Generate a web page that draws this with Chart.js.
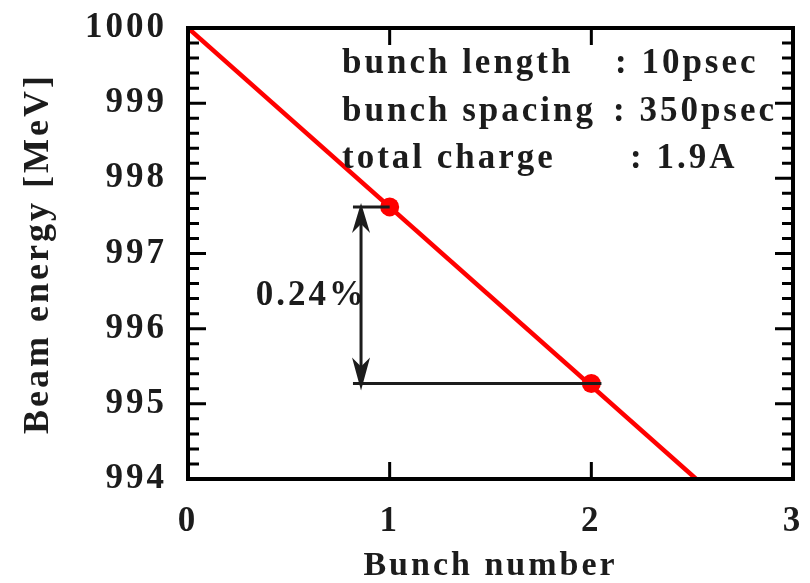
<!DOCTYPE html>
<html>
<head>
<meta charset="utf-8">
<script src="https://cdn.jsdelivr.net/npm/chart.js@4"></script>
<style>
  html, body { margin: 0; background: #fff; }
  #wrap { width: 810px; height: 583px; }
</style>
</head>
<body>
<div id="wrap"><canvas id="chart"></canvas></div>
<script>
// data
const bunchLine = [0, 2.52];
const energyLine = [1000, 994];
const bunchMarks = [1, 2];
const energyMarks = [997.62, 995.27];
const xTicks = [0, 1, 2, 3];
const yTicks = [994, 995, 996, 997, 998, 999, 1000];
const infoNames = ['bunch length', 'bunch spacing', 'total charge'];
const infoValues = [': 10psec', ': 350psec', ': 1.9A'];
const dropLabel = '0.24%';

const FONT = "'Liberation Serif', 'Times New Roman', serif";
const INK = '#1c1c1c';

// wide letter spacing like the original figure
const spacing = {
  id: 'spacing',
  beforeUpdate(chart) { chart.ctx.letterSpacing = '3px'; },
  beforeDraw(chart) { chart.ctx.letterSpacing = '3px'; }
};

// frame, inward ticks, arrow and text box
const decor = {
  id: 'decor',
  afterDatasetsDraw(chart) {
    const {ctx, chartArea: a, scales: {x, y}} = chart;
    ctx.save();
    ctx.strokeStyle = '#000';
    ctx.lineWidth = 3;
    ctx.beginPath();
    for (let i = 0; i <= 30; i++) {
      const py = y.getPixelForValue(yTicks[0] + i * 0.2);
      const len = i % 5 === 0 ? 18 : 11;
      ctx.moveTo(a.left, py); ctx.lineTo(a.left + len, py);
      ctx.moveTo(a.right, py); ctx.lineTo(a.right - len, py);
    }
    xTicks.forEach(v => {
      const px = x.getPixelForValue(v);
      ctx.moveTo(px, a.bottom); ctx.lineTo(px, a.bottom - 17);
      ctx.moveTo(px, a.top); ctx.lineTo(px, a.top + 17);
    });
    ctx.stroke();
    ctx.lineWidth = 4;
    ctx.strokeRect(a.left, a.top, a.right - a.left, a.bottom - a.top);

    // 0.24% drop arrow
    const ax = x.getPixelForValue(0.858);
    const x0 = x.getPixelForValue(0.818);
    const y1 = y.getPixelForValue(energyMarks[0]);
    const y2 = y.getPixelForValue(energyMarks[1]);
    ctx.strokeStyle = INK;
    ctx.fillStyle = INK;
    ctx.lineWidth = 3;
    ctx.beginPath();
    ctx.moveTo(x0, y1); ctx.lineTo(x.getPixelForValue(bunchMarks[0]), y1);
    ctx.moveTo(x0, y2); ctx.lineTo(x.getPixelForValue(2.05), y2);
    ctx.moveTo(ax, y1 + 10); ctx.lineTo(ax, y2 - 10);
    ctx.stroke();
    ctx.beginPath();
    ctx.moveTo(ax, y1 - 4); ctx.lineTo(ax - 9, y1 + 26); ctx.lineTo(ax, y1 + 17); ctx.lineTo(ax + 9, y1 + 26);
    ctx.closePath();
    ctx.moveTo(ax, y2 + 7); ctx.lineTo(ax - 9, y2 - 26); ctx.lineTo(ax, y2 - 17); ctx.lineTo(ax + 9, y2 - 26);
    ctx.closePath();
    ctx.fill();

    ctx.font = 'bold 35px ' + FONT;
    ctx.textBaseline = 'alphabetic';
    ctx.textAlign = 'right';
    ctx.fillText(dropLabel, ax + 6, (y1 + y2) / 2 + 10);

    ctx.textAlign = 'left';
    const colonX = [427, 425, 442];
    infoNames.forEach((t, i) => {
      const by = a.top + 45 + i * 47.5;
      ctx.fillText(t, a.left + 154, by);
      ctx.fillText(infoValues[i], a.left + colonX[i], by);
    });
    ctx.restore();
  }
};

new Chart(document.getElementById('chart'), {
  type: 'scatter',
  data: {
    datasets: [
      {
        data: bunchLine.map((b, i) => ({x: b, y: energyLine[i]})),
        showLine: true,
        borderColor: '#ff0000',
        borderWidth: 4.5,
        pointRadius: 0
      },
      {
        data: bunchMarks.map((b, i) => ({x: b, y: energyMarks[i]})),
        showLine: false,
        pointRadius: 9.5,
        pointBackgroundColor: '#ff0000',
        pointBorderWidth: 0
      }
    ]
  },
  options: {
    responsive: true,
    maintainAspectRatio: false,
    animation: false,
    layout: { padding: { top: 28, right: 17, left: 0, bottom: 0 } },
    plugins: { legend: { display: false }, tooltip: { enabled: false } },
    scales: {
      x: {
        type: 'linear', min: 0, max: 3,
        afterBuildTicks: s => { s.ticks = xTicks.map(v => ({value: v})); },
        afterFit: s => { s.height = 104; s.paddingLeft = 0; s.paddingRight = 0; },
        grid: { display: false, drawTicks: false },
        border: { display: false },
        ticks: { padding: 22, color: INK, font: { family: FONT, size: 35, weight: 'bold' }, callback: v => String(v) },
        title: {
          display: true, text: 'Bunch number', color: INK,
          font: { family: FONT, size: 34, weight: 'bold', lineHeight: 1 },
          padding: { top: 0, bottom: 0 }
        }
      },
      y: {
        type: 'linear', min: 994, max: 1000,
        afterBuildTicks: s => { s.ticks = yTicks.map(v => ({value: v})); },
        afterFit: s => { s.width = 188; s.paddingTop = 0; s.paddingBottom = 0; },
        grid: { display: false, drawTicks: false },
        border: { display: false },
        ticks: { padding: 21, color: INK, font: { family: FONT, size: 35, weight: 'bold' }, callback: v => String(v) },
        title: {
          display: true, text: 'Beam energy [MeV]', color: INK,
          font: { family: FONT, size: 36, weight: 'bold', lineHeight: 1 },
          padding: { top: 21, bottom: 0 }
        }
      }
    }
  },
  plugins: [spacing, decor]
});
</script>
</body>
</html>
